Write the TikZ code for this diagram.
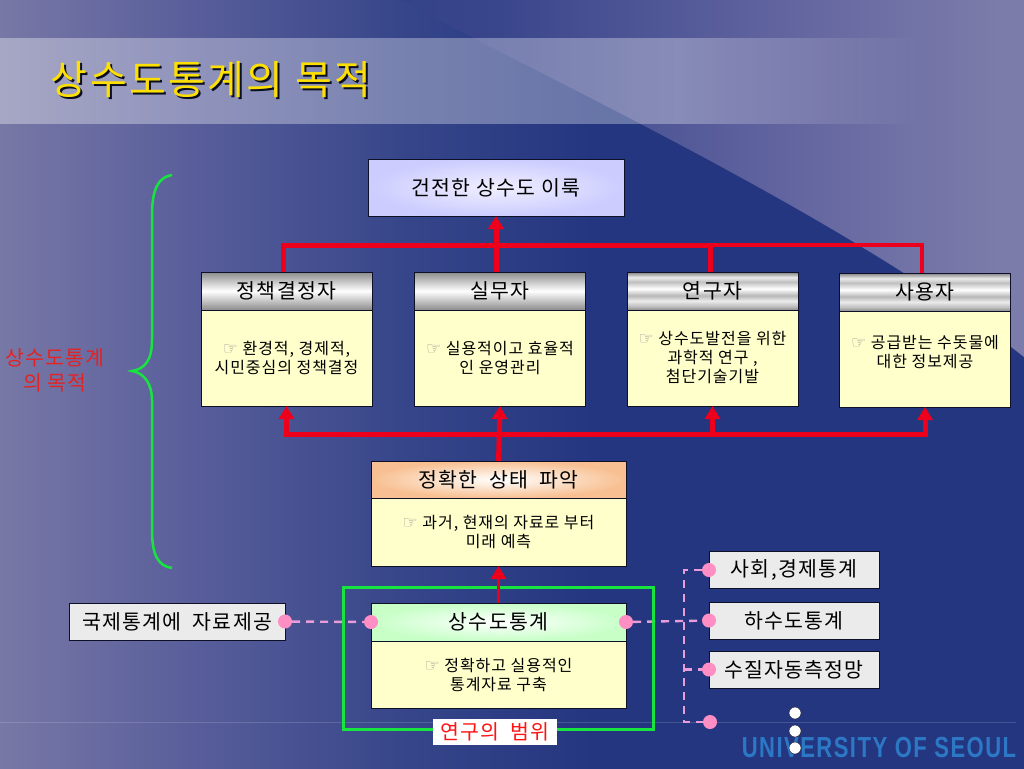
\documentclass[tikz,border=0pt]{standalone}
\usepackage{fontspec}
\setmainfont[LetterSpace=6]{Noto Sans CJK KR}
\newfontfamily\symfont{DejaVu Sans}
\newfontfamily\logofont[FakeStretch=0.76,LetterSpace=5]{Liberation Sans}
\usetikzlibrary{arrows.meta,positioning,fadings,calc}
\definecolor{navy}{RGB}{36,54,128}
\definecolor{redline}{RGB}{236,0,28}
\definecolor{greenline}{RGB}{24,228,64}
\definecolor{pinkdot}{RGB}{255,142,196}
\definecolor{pinkline}{RGB}{232,156,216}
\definecolor{bodyfill}{RGB}{255,255,204}
\definecolor{edgeline}{RGB}{14,16,40}
\definecolor{logoblue}{RGB}{44,120,196}
\definecolor{peach}{RGB}{248,192,146}
\pgfdeclarehorizontalshading{slideback}{100bp}{
  color(0bp)=(navy); color(25bp)=(rgb,255:red,120;green,120;blue,166);
  color(34bp)=(rgb,255:red,90;green,95;blue,155); color(44.5bp)=(rgb,255:red,55;green,70;blue,138);
  color(54bp)=(navy); color(100bp)=(navy)}
\pgfdeclarehorizontalshading{cornerback}{100bp}{
  color(0bp)=(navy); color(25bp)=(rgb,255:red,52;green,66;blue,136);
  color(33bp)=(rgb,255:red,58;green,70;blue,140);
  color(57bp)=(rgb,255:red,100;green,102;blue,160); color(73bp)=(rgb,255:red,124;green,124;blue,170);
  color(100bp)=(rgb,255:red,124;green,124;blue,170)}
\pgfdeclarehorizontalshading{bandmask}{100bp}{
  rgb(0bp)=(.35,.35,.35); rgb(25bp)=(.35,.35,.35); rgb(58bp)=(.31,.31,.31);
  rgb(70bp)=(0,0,0); rgb(100bp)=(0,0,0)}
\pgfdeclarefading{bandfade}{\pgfuseshading{bandmask}}
\pgfdeclareverticalshading{steelbands}{100bp}{
  color(0bp)=(black!45); color(25bp)=(black!45); color(30bp)=(black!25); color(37bp)=(black!8);
  color(44bp)=(black!28); color(53bp)=(white); color(62bp)=(black!25);
  color(68bp)=(black!8); color(75bp)=(black!50); color(100bp)=(black!50)}
\tikzset{
  boxbase/.style={draw=edgeline, line width=1pt, inner sep=0pt, outer sep=0pt, align=center},
  headbox/.style={boxbase, minimum width=171pt, minimum height=38pt, font=\fontsize{20.5}{24}\selectfont},
  silver/.style={headbox, top color=black!45, bottom color=black!45, middle color=white},
  steel/.style={headbox, shading=steelbands},
  bodybox/.style={boxbase, fill=bodyfill, minimum width=171pt, minimum height=96pt, font=\fontsize{16}{19}\selectfont},
  sidebox/.style={boxbase, fill=black!8, minimum width=170pt, minimum height=37pt, font=\fontsize{20.5}{24}\selectfont},
  dot/.style={circle, fill=pinkdot, inner sep=0pt, minimum size=14pt},
  whitedot/.style={circle, draw=edgeline, fill=white, inner sep=0pt, minimum size=12pt},
  bus/.style={draw=redline, line width=5pt},
  busthin/.style={draw=redline, line width=3.5pt},
  arrow/.style={-{Triangle[length=13pt,width=15pt]}},
  pinkdash/.style={draw=pinkline, line width=2.4pt, dash pattern=on 8pt off 6pt},
}
\newcommand{\handmark}{{\fontsize{17}{17}\symfont\textcolor{black!40}{☞}}\ }

\begin{document}
\begin{tikzpicture}[x=1pt, y=-1pt]
    \useasboundingbox (0,0) rectangle (1024,768);
    % slide background
    \shade[shading=slideback] (0,0) rectangle (1024,768);
    \shade[shading=cornerback] (400,0) .. controls (560,85) and (850,220) .. (1024,357) -- (1024,0) -- cycle;
    \fill[white, path fading=bandfade, fit fading=true] (0,38) rectangle (1024,124);
    \fill[white, opacity=.15] (0,722) rectangle (1016,723);
    \node[text=black!75!navy, font=\fontsize{40}{44}\selectfont] (titleshadow) at (213,82) {상수도통계의 목적};
    \node[text=yellow!82!orange, font=\fontsize{40}{44}\selectfont] (title) at (211,80) {상수도통계의 목적};
    \node[text=logoblue, font=\logofont\bfseries\fontsize{29}{30}\selectfont] (logo) at (879,748) {UNIVERSITY OF SEOUL};

    % goal
    \node[boxbase, minimum width=256pt, minimum height=57pt, inner color=white!70!blue!20, outer color=blue!20,
      font=\fontsize{20.5}{24}\selectfont] (goal) at (496,187.5) {\raisebox{-2pt}{건전한 상수도 이룩}};

    % four users
    \node[silver] (headA) at (286.5,291) {정책결정자};
    \node[bodybox, below=0pt of headA] (bodyA) {\handmark 환경적, 경제적,\\시민중심의 정책결정};
    \node[silver] (headB) at (500,291) {실무자};
    \node[bodybox, below=0pt of headB] (bodyB) {\handmark 실용적이고 효율적\\인 운영관리};
    \node[steel] (headC) at (712.5,291) {\raisebox{-2.5pt}{연구자}};
    \node[bodybox, below=0pt of headC] (bodyC) {\handmark 상수도발전을 위한\\과학적 연구 ,\\첨단기술기발};
    \node[steel] (headD) at (925,292) {\raisebox{-2.5pt}{사용자}};
    \node[bodybox, below=0pt of headD] (bodyD) {\handmark 공급받는 수돗물에\\대한 정보제공\\[-4pt]\mbox{}};

    % state
    \node[headbox, minimum width=255pt, minimum height=37pt, inner color=white, outer color=peach] (headS) at (498.5,479.5) {정확한\ \ 상태\ \ 파악};
    \node[bodybox, minimum width=255pt, minimum height=68pt, below=0pt of headS] (bodyS) {\handmark 과거, 현재의 자료로 부터\\미래 예측};

    % statistics
    \node[headbox, minimum width=255pt, minimum height=38pt, inner color=white, outer color=green!22] (headM) at (498.5,622) {상수도통계};
    \node[bodybox, minimum width=255pt, minimum height=67pt, below=0pt of headM] (bodyM) {\handmark 정확하고 실용적인\\통계자료 구축};

    % side boxes
    \node[sidebox, minimum width=216pt] (boxE) at (177,621.5) {국제통계에\ \ 자료제공};
    \node[sidebox] (boxA) at (794,570) {사회,경제통계};
    \node[sidebox] (boxB) at (794,620.5) {하수도통계};
    \node[sidebox] (boxC) at (794,669.5) {수질자동측정망};

    % pink dots
    \node[dot] (dotE) at (boxE.east) {};
    \node[dot] (dotL) at (headM.west) {};
    \node[dot] (dotR) at (headM.east) {};
    \node[dot] (dotA) at (boxA.west) {};
    \node[dot] (dotB) at (boxB.west) {};
    \node[dot] (dotC) at (boxC.west) {};
    \node[dot] (dotD) at (710,722) {};
    \coordinate (joinD) at (684,722);
    \coordinate (joinC) at (684,669.5);

    % dashed links
    \draw[pinkdash] (dotE) -- (dotL);
    \draw[pinkdash] (dotR) -- (dotB);
    \draw[pinkdash] (dotA) -| (joinD) -- (dotD);
    \draw[pinkdash] (joinC) -- (dotC);

    % study scope
    \node[draw=greenline, line width=3pt, minimum width=310pt, minimum height=142pt, inner sep=0pt] (scope) at (498,658) {};
    \node[fill=white, text=red!90!pink, inner sep=0pt, minimum width=124pt, minimum height=26pt, font=\fontsize{20.5}{24}\selectfont] (scopelabel) at (495,732) {연구의\ \ 범위};

    % red arrows
    \coordinate (busT) at (710,245);
    \coordinate (busL) at (499,434);
    \draw[bus, arrow] ([xshift=-4pt]headB.north) -- (goal.south);
    \draw[bus] ([xshift=-3.5pt]headA.north) |- (busT);
    \draw[bus] ([xshift=-2.5pt]headC.north) -- (busT);
    \draw[busthin] ([xshift=-3pt]headD.north) |- (busT);
    \draw[bus, arrow] (headS.north) -- (bodyB.south);
    \draw[bus, arrow] (busL) -| (bodyA.south);
    \draw[bus, arrow] (busL) -| (bodyC.south);
    \draw[bus, arrow] (busL) -| (bodyD.south);
    \draw[busthin, arrow] (headM.north) -- (bodyS.south);

    % brace and its label
    \draw[greenline, line width=2.5pt] (172,175) .. controls (158,177) and (152,190) .. (152,215) -- (152,340)
      .. controls (152,360) and (145,369) .. (132,371) .. controls (145,373) and (152,385) .. (152,400) -- (152,530)
      .. controls (152,555) and (158,566) .. (172,568);
    \node[text=red!80!pink!90!black, align=center, font=\fontsize{20.5}{25}\selectfont] (goallabel) at (55,370) {상수도통계\\의\ 목적};

    % three white dots
    \node[whitedot] (moreA) at (795,713) {};
    \node[whitedot] (moreB) at (795,731) {};
    \node[whitedot] (moreC) at (795,748) {};
\end{tikzpicture}
\end{document}
